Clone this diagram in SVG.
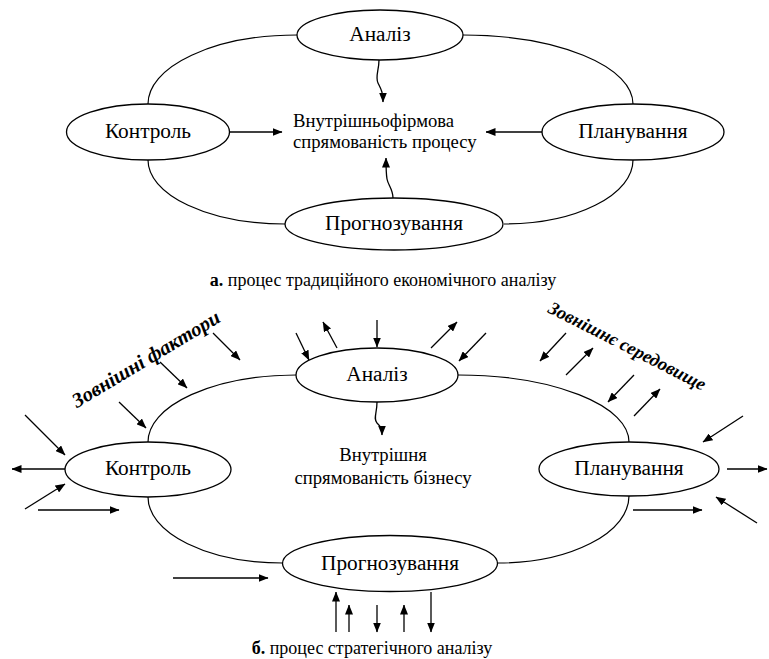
<svg xmlns="http://www.w3.org/2000/svg" width="769" height="659" viewBox="0 0 769 659">
<defs>
<marker id="ah" viewBox="0 0 10 8" refX="9.5" refY="4" markerWidth="10" markerHeight="8" markerUnits="userSpaceOnUse" orient="auto"><path d="M0,0 L10,4 L0,8 z" fill="#000"/></marker>
<style>
.nd{fill:#fff;stroke:#000;stroke-width:1.3}
.lb{font-family:"Liberation Serif",serif;font-size:21.3px;fill:#000;text-anchor:middle}
.in{font-family:"Liberation Serif",serif;font-size:18.67px;fill:#000}
.cap{font-family:"Liberation Serif",serif;font-size:18px;fill:#000;text-anchor:middle}
.ext{font-family:"Liberation Serif",serif;font-weight:bold;font-style:italic;fill:#000;text-anchor:middle}
.ring{fill:none;stroke:#000;stroke-width:1.2}
.ar{fill:none;stroke:#000;stroke-width:1.3;marker-end:url(#ah)}
</style>
</defs>
<rect width="769" height="659" fill="#fff"/>

<g id="connectors">
<path class="ring" d="M148,104 A149,69 0 0 1 297,35"/>
<path class="ring" d="M463,35 A170,69 0 0 1 633,104"/>
<path class="ring" d="M148,160 A137,64 0 0 0 285,224"/>
<path class="ring" d="M633,160 A129,64 0 0 1 504,224"/>
<path class="ar" d="M229,132 L282,132"/>
<path class="ar" d="M543,132 L486,132"/>
<path class="ar" d="M379,60 C379,70 375,77 378,83 C381,89 383,92 383,102"/>
<path class="ar" d="M393,198 C393,189 388,185 387,179 C386,173 386,167 386,158"/>

<path class="ring" d="M148,442 A148,67 0 0 1 296,375"/>
<path class="ring" d="M458,375 A171,67 0 0 1 629,442"/>
<path class="ring" d="M148,497 A135,66 0 0 0 283,563"/>
<path class="ring" d="M629,496 A131,67 0 0 1 497,563"/>
<path class="ar" d="M377,402 C377,414 373,418 377,423 C381,427 382,428 382,435"/>
<path class="ar" d="M213,333 L240,360"/>
<path class="ar" d="M160,362 L187,388"/>
<path class="ar" d="M119,402 L146,428"/>
<path class="ar" d="M25,415 L65,455"/>
<path class="ar" d="M65,469 L12,469"/>
<path class="ar" d="M25,509 L65,484"/>
<path class="ar" d="M38,510 L119,510"/>
<path class="ar" d="M296,333 L309,360"/>
<path class="ar" d="M337,348 L323,322"/>
<path class="ar" d="M377,320 L377,347"/>
<path class="ar" d="M431,348 L457,322"/>
<path class="ar" d="M486,333 L459,361"/>
<path class="ar" d="M566,333 L540,361"/>
<path class="ar" d="M566,375 L593,348"/>
<path class="ar" d="M634,375 L608,402"/>
<path class="ar" d="M634,416 L660,389"/>
<path class="ar" d="M743,416 L703,442"/>
<path class="ar" d="M727,469 L767,469"/>
<path class="ar" d="M633,510 L702,510"/>
<path class="ar" d="M757,523 L716,497"/>
<path class="ar" d="M173,578 L268,578"/>
<path class="ar" d="M336,632 L336,592"/>
<path class="ar" d="M349,632 L349,605"/>
<path class="ar" d="M377,605 L377,632"/>
<path class="ar" d="M404,632 L404,605"/>
<path class="ar" d="M431,592 L431,632"/>
</g>

<g id="a-analiz"><ellipse class="nd" cx="380" cy="35" rx="83" ry="25"/><text class="lb" x="380" y="41">Аналіз</text></g>
<g id="a-kontrol"><ellipse class="nd" cx="148" cy="132" rx="81.5" ry="28"/><text class="lb" x="148" y="138">Контроль</text></g>
<g id="a-planuvannia"><ellipse class="nd" cx="633" cy="132" rx="91" ry="28"/><text class="lb" x="633" y="138">Планування</text></g>
<g id="a-prognozuvannia"><ellipse class="nd" cx="394" cy="224" rx="109" ry="26"/><text class="lb" x="394" y="230">Прогнозування</text></g>
<g id="a-center"><text class="in" x="293" y="127">Внутрішньофірмова</text><text class="in" x="293" y="148">спрямованість процесу</text></g>
<text class="cap" x="383" y="286"><tspan font-weight="bold">а.</tspan> процес традиційного економічного аналізу</text>

<g id="b-analiz"><ellipse class="nd" cx="377" cy="375" rx="81" ry="27"/><text class="lb" x="377" y="381">Аналіз</text></g>
<g id="b-kontrol"><ellipse class="nd" cx="148" cy="469.5" rx="83" ry="27.5"/><text class="lb" x="148" y="475">Контроль</text></g>
<g id="b-planuvannia"><ellipse class="nd" cx="629" cy="469" rx="90" ry="27"/><text class="lb" x="629" y="475">Планування</text></g>
<g id="b-prognozuvannia"><ellipse class="nd" cx="390" cy="563.5" rx="107.5" ry="28"/><text class="lb" x="390" y="569.5">Прогнозування</text></g>
<g id="b-center"><text class="in" x="383" y="461" text-anchor="middle">Внутрішня</text><text class="in" x="383" y="484" text-anchor="middle">спрямованість бізнесу</text></g>
<text class="ext" font-size="20.5" transform="translate(149.4,364.7) rotate(-31)">Зовнішні фактори</text>
<text class="ext" font-size="18.5" transform="translate(624.5,351.4) rotate(27)">Зовнішнє середовище</text>
<text class="cap" x="372" y="654"><tspan font-weight="bold">б.</tspan> процес стратегічного аналізу</text>
</svg>
